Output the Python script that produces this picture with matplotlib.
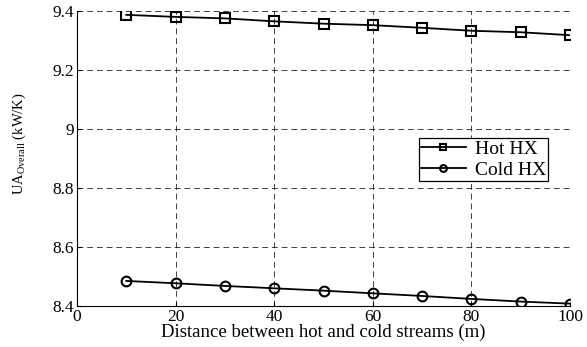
import numpy as np
import matplotlib
matplotlib.use("Agg")
import matplotlib.pyplot as plt

distance = [10, 20, 30, 40, 50, 60, 70, 80, 90, 100]
hot_ua = [9.387, 9.380, 9.375, 9.365, 9.357, 9.352, 9.343, 9.333, 9.328, 9.318]
cold_ua = [8.485, 8.477, 8.468, 8.460, 8.452, 8.443, 8.434, 8.424, 8.415, 8.408]

plt.rcParams['font.family'] = ['Liberation Serif', 'DejaVu Serif']
plt.rcParams['mathtext.fontset'] = 'custom'
plt.rcParams['mathtext.rm'] = 'Liberation Serif'
plt.rcParams['mathtext.it'] = 'Liberation Serif'

fig = plt.figure(figsize=(5.87, 3.47), dpi=100)
ax = fig.add_axes([77 / 587, 1 - 306 / 347, 493 / 587, 295 / 347])

ax.plot(distance, hot_ua, color='black', lw=1.3, marker='s', ms=7,
        mfc='none', mew=1.5, label='Hot HX')
ax.plot(distance, cold_ua, color='black', lw=1.3, marker='o', ms=7,
        mfc='none', mew=1.5, label='Cold HX')

ax.set_xlim(0, 100)
ax.set_ylim(8.4, 9.4)
ax.set_xticks([0, 20, 40, 60, 80, 100])
ax.set_yticks([8.4, 8.6, 8.8, 9.0, 9.2, 9.4])
ax.set_yticklabels(['8.4', '8.6', '8.8', '9', '9.2', '9.4'])
ax.tick_params(labelsize=12.5, direction='in', length=3, width=0.8, pad=2)
ax.grid(True, color='black', linestyle=(0, (6, 4)), lw=0.7, alpha=0.75)
ax.spines['top'].set_visible(False)
ax.spines['right'].set_visible(False)

ax.set_xlabel('Distance between hot and cold streams (m)', fontsize=13.5,
              labelpad=-1)
ax.set_ylabel(r'UA$_{\mathrm{Overall}}$ (kW/K)', fontsize=10.5)
ax.yaxis.set_label_coords(-0.099, 0.55)

leg = ax.legend(loc='upper left', bbox_to_anchor=(0.694, 0.569),
                fontsize=14, frameon=True, fancybox=False,
                handlelength=2.3, borderpad=0.1, labelspacing=0.2,
                handletextpad=0.45, borderaxespad=0, markerscale=0.7)
leg.get_frame().set_edgecolor('black')
leg.get_frame().set_linewidth(0.9)
leg.get_frame().set_alpha(1)

fig.savefig('out.png', dpi=100)
